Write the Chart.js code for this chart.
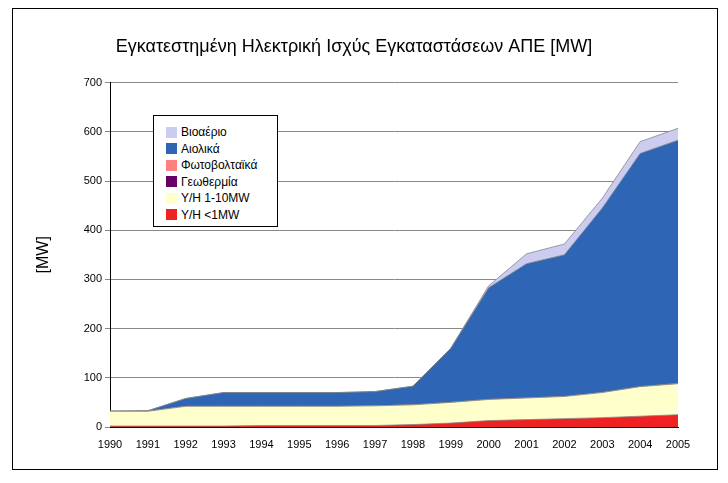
<!DOCTYPE html><html><head><meta charset="utf-8">
<script src="https://cdn.jsdelivr.net/npm/chart.js@4"></script>
<style>body{margin:0;background:#fff}#w{position:relative;width:728px;height:483px}
#lg{position:absolute;left:153px;top:115px;width:125px;height:112px;border:1px solid #000;background:#fff;font:12px Arial,"Liberation Sans",sans-serif;box-sizing:border-box;padding:8px 0 0 12px}
#lg div{height:16.5px;display:flex;align-items:center}#lg span{display:inline-block;width:11px;height:11px;margin-right:4px}</style></head>
<body><div id="w"><canvas id="c" width="728" height="483"></canvas><div id="lg"></div></div>
<script>
const years=['1990','1991','1992','1993','1994','1995','1996','1997','1998','1999','2000','2001','2002','2003','2004','2005'];
const yhSmall=[2,2,2,2,3,3,3,3,5,8,13,15,17,19,22,25];
const yhMid=[30,30,40,40,39,39,39,40,40,42,43,44,45,51,60,63];
const geo=[0,0,0,0,0,0,0,0,0,0,0,0,0,0,0,0];
const pv=[0,0,0,0,0,0,0,0,0,0,0,0,0,0,0,1];
const wind=[0,1,16,28,28,28,28,29,38,110,227,273,288,375,474,494];
const bio=[0,0,0,0,0,0,0,0,0,0,4,20,22,20,24,24];
const series=[['Βιοαέριο',bio,'#ccccf0'],['Αιολικά',wind,'#2e65b5'],['Φωτοβολταϊκά',pv,'#ff8080'],['Γεωθερμία',geo,'#660066'],['Υ/Η 1-10MW',yhMid,'#ffffcc'],['Υ/Η <1MW',yhSmall,'#ee2222']];
document.getElementById('lg').innerHTML=series.map(s=>`<div><span style="background:${s[2]}"></span>${s[0]}</div>`).join('');
const ds=series.slice().reverse().map(s=>({label:s[0],data:s[1],backgroundColor:s[2],borderColor:'#888',borderWidth:0.8,fill:true,pointRadius:0,tension:0}));
const border={id:'b',afterDraw(c){const x=c.ctx;x.save();x.strokeStyle='#000';x.lineWidth=1;x.strokeRect(12.5,8.5,705,461);x.restore();}};
const F='Arial, "Liberation Sans", sans-serif';
new Chart(document.getElementById('c'),{type:'line',data:{labels:years,datasets:ds},plugins:[border],
options:{responsive:false,animation:false,layout:{padding:{left:30,right:50,top:8,bottom:0}},
plugins:{legend:{display:false},tooltip:{enabled:false},title:{display:true,text:'Εγκατεστημένη Ηλεκτρική Ισχύς Εγκαταστάσεων ΑΠΕ [MW]',color:'#000',font:{family:F,size:18,weight:'normal'},padding:{top:28,bottom:25}}},
scales:{x:{offset:false,grid:{display:false,drawTicks:true},border:{color:'#000'},ticks:{color:'#000',font:{family:F,size:11},maxRotation:0,autoSkip:false},afterFit(s){s.height=56;}},
y:{stacked:true,min:0,max:700,ticks:{stepSize:100,color:'#000',font:{family:F,size:11}},grid:{color:'#888',tickLength:5},border:{color:'#000'},
title:{display:true,text:'[MW]',color:'#000',font:{family:F,size:16}},afterFit(s){s.width=80;}}}}});
</script></body></html>
